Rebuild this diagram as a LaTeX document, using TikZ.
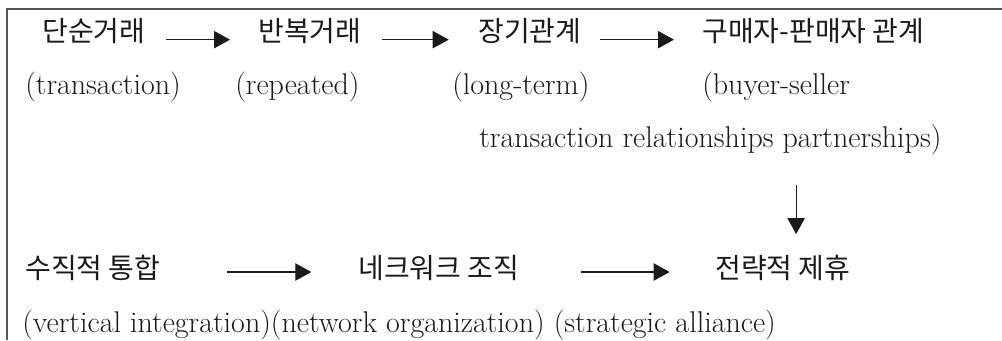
\documentclass[tikz,border=0pt]{standalone}
\usepackage{fontspec}
\usepackage{xcolor}
\usepackage{tikz}
\usetikzlibrary{arrows.meta,positioning,calc}
\newfontfamily\krfont{Noto Sans CJK KR}
\definecolor{tdark}{HTML}{1A1A1A}
\definecolor{tframe}{HTML}{555555}

\tikzset{
  kr/.style={anchor=west,inner sep=0pt,text height=17pt,text depth=1.5pt,
    font=\krfont\fontsize{21}{25}\selectfont,text=tdark},
  en/.style={anchor=west,inner sep=0pt,
    font=\fontsize{22.5}{27}\selectfont,text=tdark},
  flow/.style={-{Triangle[length=12pt,width=13pt]},line width=0.8pt,tdark}
}

\begin{document}
\begin{tikzpicture}[x=0.75pt,y=-0.75pt]
      \useasboundingbox (0,0) rectangle (1002,340);

      % Frame
      \draw[tframe,line width=1.1pt] (7,340) -- (7,9) -- (1002,9);

      % Upper chain
      \node[kr] (simple) at (42,31) {단순거래};
      \node[kr] (repeat) at (258,31) {반복거래};
      \node[kr] (longterm) at (478,31) {장기관계};
      \node[kr] (partner) at (702,31) {구매자-판매자 관계};

      \node[en] (simpleEn) at (25,87) {(transaction)};
      \node[en] (repeatEn) at (235,87) {(repeated)};
      \node[en] (longtermEn) at (452,87) {(long-term)};
      \node[en] (partnerEn) at (702,87) {(buyer-seller};
      \node[en] (partnerEnB) at (479,140)
        {transaction relationships partnerships)};

      \draw[flow,shorten <=15pt,shorten >=21pt]
        ([yshift=-6.5pt]simple.east) -- ([yshift=-6.5pt]repeat.west);
      \draw[flow,shorten <=15pt,shorten >=22pt]
        ([yshift=-6.5pt]repeat.east) -- ([yshift=-6.5pt]longterm.west);
      \draw[flow,shorten <=14pt,shorten >=21pt]
        ([yshift=-6.5pt]longterm.east) -- ([yshift=-6.5pt]partner.west);

      % Lower chain
      \node[kr] (vertical) at (25,268) {수직적 통합};
      \node[kr] (network) at (358,268) {네크워크 조직};
      \node[kr] (alliance) at (715,268) {전략적 제휴};

      \node[en] (lowerEn) at (22,325)
        {(vertical integration)(network organization) (strategic alliance)};

      \draw[flow,shorten <=50pt,shorten >=35pt]
        ([yshift=-3pt]vertical.east) -- ([yshift=-3pt]network.west);
      \draw[flow,shorten <=46pt,shorten >=34pt]
        ([yshift=-3pt]network.east) -- ([yshift=-3pt]alliance.west);

      % Down to the alliance
      \draw[flow,shorten <=22pt,shorten >=16pt]
        ([xshift=10pt]alliance.north |- partnerEnB.south)
        -- ([xshift=10pt]alliance.north);
    \end{tikzpicture}
\end{document}
